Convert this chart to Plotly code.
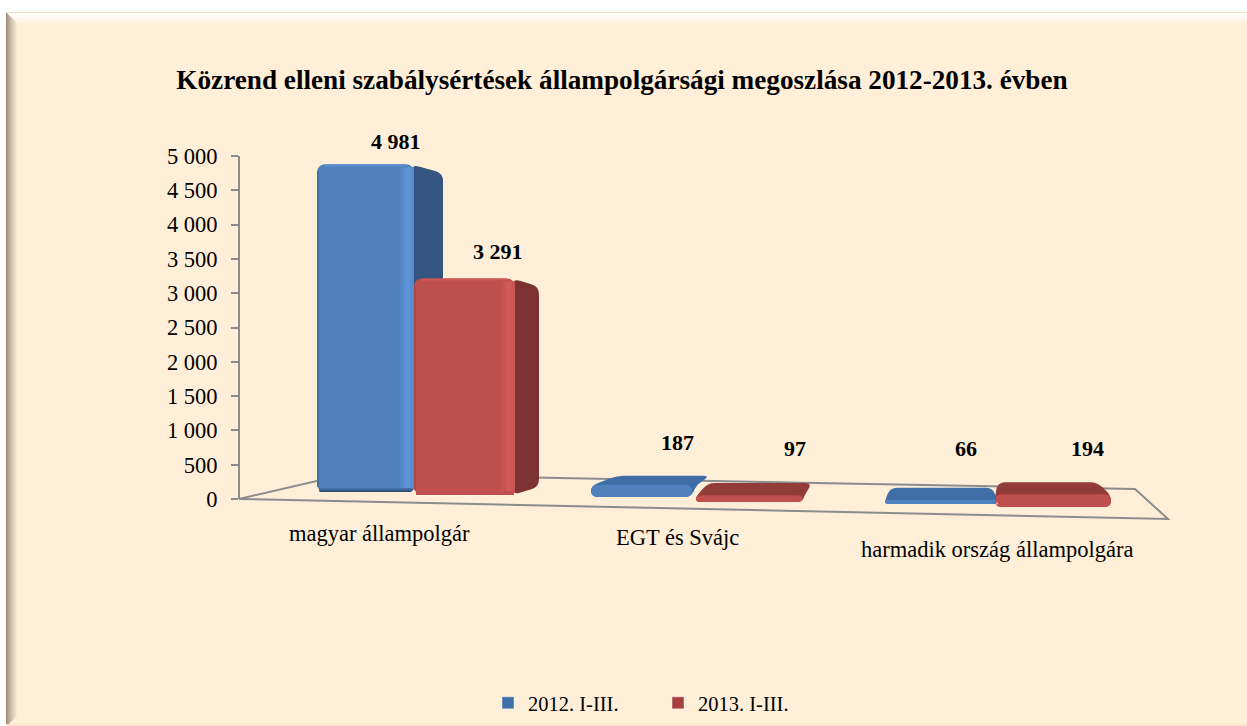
import plotly.graph_objects as go

W, H = 1247, 726
categories = ["magyar állampolgár", "EGT és Svájc", "harmadik ország állampolgára"]
series_names = ["2012. I-III.", "2013. I-III."]
values_2012 = [4981, 187, 66]
values_2013 = [3291, 97, 194]
tick_vals = [0, 500, 1000, 1500, 2000, 2500, 3000, 3500, 4000, 4500, 5000]
tick_text = ["0", "500", "1 000", "1 500", "2 000", "2 500", "3 000", "3 500", "4 000", "4 500", "5 000"]
title_text = "Közrend elleni szabálysértések állampolgársági megoszlása 2012-2013. évben"

CREAM = "#FFEFD9"
FONT = "Liberation Serif"
K = 0.0658            # px per value on the bars' own (perspective) scale
Y0 = 499

# front left, front right, base pixel, back-left shift, back-right shift, depth rise (layout only)
geom_2012 = [(317, 414, 492, 0, 29, 9), (591, 692, 497, 26, 18, 9), (885, 997, 504, 5, -4, 12)]
geom_2013 = [(414, 515, 495, 0, 24, 8), (696, 802, 502, 12, 10, 12.6), (995, 1111, 507, 3, -14, 12)]
label_pos_2012 = [(396, 142), (677, 443), (966, 449)]
label_pos_2013 = [(498, 252), (795, 449), (1087, 449)]
cat_pos = [(379, 533), (677, 537), (997, 549)]

BLUE = dict(front="#4F81BD", side="#34557F", top="#3F6DA6", hi="#6096DA", lo="#2C4A72", legend="#3F6FA8")
RED = dict(front="#C0504D", side="#7C3230", top="#923C39", hi="#D45C58", lo="#C0504D", legend="#A8403E")


def py(v):
    return (Y0 - v) / K


def rpath(pts, r):
    """Rounded polygon through pixel x / value-scale y points."""
    n = len(pts)
    out = []
    for i in range(n):
        px, pyy = pts[i]
        ax, ay = pts[i - 1]
        bx, by = pts[(i + 1) % n]
        def toward(qx, qy):
            dx, dy = qx - px, qy - pyy
            d = max((dx * dx + dy * dy) ** 0.5, 1e-6)
            t = min(r, d / 2) / d
            return px + dx * t, pyy + dy * t
        s = toward(ax, ay)
        e = toward(bx, by)
        out.append(("M" if i == 0 else "L") + f"{s[0]:.2f},{py(s[1]):.2f}")
        out.append(f"Q{px:.2f},{py(pyy):.2f} {e[0]:.2f},{py(e[1]):.2f}")
    return " ".join(out) + " Z"


shapes = []


def add(path, fill, layer="below", line=None, xr="x", yr="y"):
    shapes.append(dict(type="path", path=path, fillcolor=fill, xref=xr, yref=yr, layer=layer,
                       line=dict(width=0) if line is None else line))


def pix_rect(x0, y0, x1, y1, fill, layer="below"):
    shapes.append(dict(type="rect", x0=x0, x1=x1, y0=py(y0), y1=py(y1), xref="x", yref="y",
                       fillcolor=fill, line=dict(width=0), layer=layer))


def mix(a, b, t):
    ca = [int(a[i:i + 2], 16) for i in (1, 3, 5)]
    cb = [int(b[i:i + 2], 16) for i in (1, 3, 5)]
    return "#%02X%02X%02X" % tuple(round(x + (y - x) * t) for x, y in zip(ca, cb))


def poly(pts, fill):
    p = " ".join(("M" if i == 0 else "L") + f"{x},{py(y):.2f}" for i, (x, y) in enumerate(pts)) + " Z"
    add(p, fill)


# page panel and bevel
pix_rect(6, 12, W, H, CREAM)
for i in range(12):
    poly([(6 + i, 12 + i), (7 + i, 13 + i), (7 + i, H - i), (6 + i, H - i + 1)],
         mix("#9C8C7C", CREAM, (i / 11) ** 0.8))
    poly([(6 + i, 12 + i), (W, 12 + i), (W, 13 + i), (7 + i, 13 + i)],
         mix("#FFFFFF", CREAM, (i / 11) ** 1.3))
pix_rect(6, 12, W, 13, "#F6DCC6")
pix_rect(6, 724, W, H, "#FBE3CE")

# floor
fl = [(239, 499), (1168, 519), (1135, 489), (347, 474)]
add(" ".join(("M" if i == 0 else "L") + f"{x},{py(y):.2f}" for i, (x, y) in enumerate(fl)) + " Z",
    "rgba(0,0,0,0)", line=dict(color="#8C8C8C", width=2))


def corner_masks(xl, xr_, base, r):
    add(f"M{xl - .5},{py(base + .5):.2f} L{xl + r},{py(base + .5):.2f} Q{xl},{py(base):.2f} {xl - .5},{py(base - r):.2f} Z",
        CREAM, "above")
    add(f"M{xr_ + .5},{py(base + .5):.2f} L{xr_ - r},{py(base + .5):.2f} Q{xr_},{py(base):.2f} {xr_ + .5},{py(base - r):.2f} Z",
        CREAM, "above")


# Third-dimension faces and bevels, all derived from the values
def bar_faces(values, geom, c, bottom_r):
    for v, (xl, xr_, base, sl, sr, rise) in zip(values, geom):
        h = v * K
        top = base - h
        if h > 40:  # tall bar: the right side face is what shows
            add(rpath([(xr_ - 3, top), (xr_ + sr, top + rise), (xr_ + sr, base - rise),
                       (xr_ - 3, base)], 8), c["side"])
            for i in range(7):
                t = 1 - abs(i - 3.5) / 4.5
                pix_rect(xr_ - 14 + i * 2, top + 3, xr_ - 12 + i * 2, base - 2,
                         mix(c["front"], c["hi"], t), "above")
            pix_rect(xl + 8, top, xr_ - 8, top + 2, mix(c["front"], c["hi"], .7), "above")
            for i in range(4):
                pix_rect(xl + 2, base - 4 + i, xr_ - 1, base - 3 + i, mix(c["front"], c["lo"], (i + 1) / 4), "above")
            pix_rect(xl, top + 7, xl + 2, base - 5, mix(c["front"], "#2C4A72" if c is BLUE else "#8C3A38", .35), "above")
            if bottom_r:
                corner_masks(xl, xr_, base, bottom_r)
        else:  # flat slab: the top face is what shows
            add(rpath([(xl, top + 1), (xl + sl, top - rise), (xr_ + sr, top - rise),
                       (xr_ + max(sr, 0) * 0.2, top + 1), (xr_, base), (xl, base)], 7), c["top"])
            corner_masks(xl, xr_, base, min(bottom_r or 3, h / 2))


bar_faces(values_2012, geom_2012, BLUE, 6)
bar_faces(values_2013, geom_2013, RED, 0)


def bar_trace(name, values, geom, c):
    return go.Bar(
        name=name, x=[(g[0] + g[1]) / 2 for g in geom], y=values,
        width=[g[1] - g[0] for g in geom],
        base=[(Y0 - g[2]) / K for g in geom],
        marker=dict(color=c["front"], line=dict(width=0), cornerradius=8),
        hoverinfo="name+y", showlegend=False,
    )


fig = go.Figure()
fig.add_trace(bar_trace(series_names[0], values_2012, geom_2012, BLUE))
fig.add_trace(bar_trace(series_names[1], values_2013, geom_2013, RED))
# legend keys
for name, c in zip(series_names, (BLUE, RED)):
    fig.add_trace(go.Bar(name=name, x=[None], y=[None], marker=dict(color=c["legend"])))
# the visible value axis lives on its own subplot
fig.add_trace(go.Scatter(x=[None], y=[0], xaxis="x2", yaxis="y2", showlegend=False, hoverinfo="skip"))

ann = []
for vals, pos in ((values_2012, label_pos_2012), (values_2013, label_pos_2013)):
    for v, (x, y) in zip(vals, pos):
        txt = f"{v:,}".replace(",", " ")
        ann.append(dict(x=x, y=py(y - 1), xref="x", yref="y", text=f"<b>{txt}</b>", showarrow=False,
                        xanchor="center", yanchor="middle", font=dict(family=FONT, size=22, color="#000")))
for c, (x, y) in zip(categories, cat_pos):
    ann.append(dict(x=x, y=py(y), xref="x", yref="y", text=c, showarrow=False,
                    xanchor="center", yanchor="middle", font=dict(family=FONT, size=22.5, color="#000")))

fig.update_layout(
    width=W, height=H, autosize=False, margin=dict(l=0, r=0, t=0, b=0, autoexpand=False),
    paper_bgcolor="#FFFFFF", plot_bgcolor="rgba(0,0,0,0)",
    barmode="overlay", shapes=shapes, annotations=ann,
    title=dict(text=f"<b>{title_text}</b>", x=622 / W, xanchor="center", y=1 - 79 / H, yanchor="middle",
               font=dict(family=FONT, size=27.2, color="#000")),
    xaxis=dict(range=[0, W], domain=[0, 1], visible=False, fixedrange=True),
    yaxis=dict(domain=[0, 1], range=[py(H), py(0)], visible=False, showgrid=False,
               zeroline=False, fixedrange=True),
    xaxis2=dict(range=[0, 1], domain=[0, 1], visible=False, fixedrange=True, anchor="y2"),
    yaxis2=dict(domain=[(H - 499) / H, (H - 156) / H], range=[0, 5000], anchor="free", position=239 / W,
                tickmode="array", tickvals=tick_vals, ticktext=tick_text, ticks="outside", ticklen=7,
                tickwidth=2, tickcolor="#8C8C8C", showline=True, linecolor="#8C8C8C", linewidth=2,
                showgrid=False, zeroline=False, fixedrange=True, ticklabelstandoff=9,
                tickfont=dict(family=FONT, size=22.5, color="#000")),
    legend=dict(orientation="h", x=488 / W, xanchor="left", y=1 - 703 / H, yanchor="middle",
                bgcolor="rgba(0,0,0,0)", font=dict(family=FONT, size=20.5, color="#000"),
                entrywidth=125, entrywidthmode="pixels", itemclick=False, itemdoubleclick=False),
    showlegend=True,
)

fig.write_html("out.html", config=dict(displayModeBar=False),
               post_script="document.body.style.margin='0';document.body.style.overflow='hidden';")
